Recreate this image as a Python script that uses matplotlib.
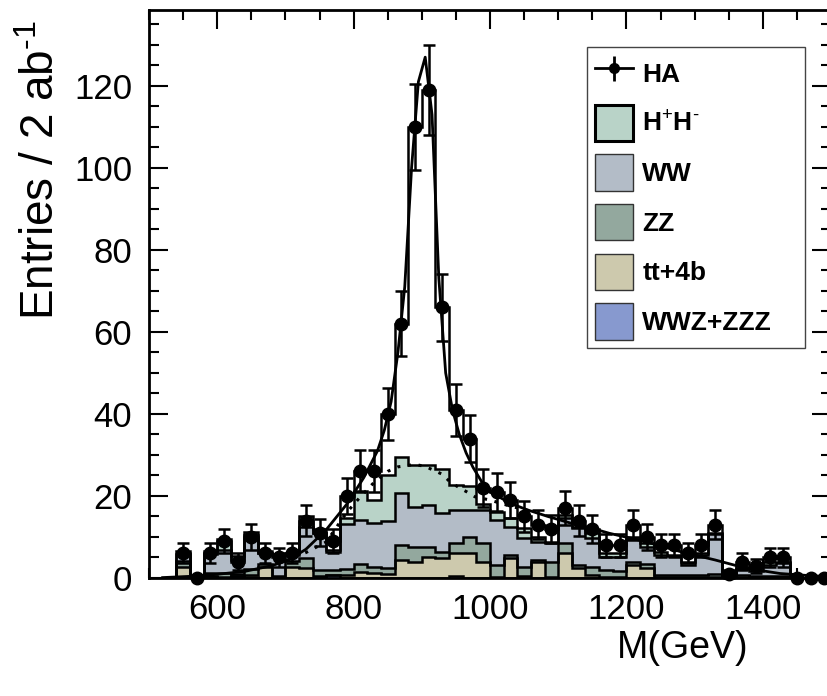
import matplotlib
matplotlib.use("Agg")
import matplotlib.pyplot as plt
from matplotlib.ticker import MultipleLocator
from matplotlib.patches import Patch
from matplotlib.lines import Line2D
import numpy as np

plt.rcParams['font.family'] = ['Liberation Sans', 'DejaVu Sans']
plt.rcParams['mathtext.fontset'] = 'custom'
plt.rcParams['mathtext.rm'] = 'Liberation Sans'
plt.rcParams['mathtext.it'] = 'Liberation Sans'

# bins: 20 GeV wide, 540 .. 1500 GeV
bin_lo = 540
bin_hi = 1500
bin_w = 20

# pseudo-data (HA signal + background), entries per bin
ha = [6, 0, 6, 9, 4, 10, 6, 5, 6, 14,
      11, 9, 20, 26, 26, 40, 62, 110, 119, 66,
      41, 34, 22, 21, 19, 15, 13, 12, 17, 14,
      12, 8, 8, 13, 10, 8, 8, 6, 8, 13,
      1, 4, 3, 5, 5, 0, 0, 0]

# backgrounds (stacked bottom -> top)
wwz_zzz = [0, 0, 0, 0, 0.4, 0.2, 0, 0, 0, 0,
           0, 0.8, 0, 0, 0, 0, 0, 0, 0, 0,
           0.6, 0, 0, 0, 0, 0, 0, 0, 0, 0,
           0, 0, 0, 0, 0, 0, 0, 0, 0, 0,
           0, 0, 0, 0, 0, 0, 0, 0]
tt4b = [2.8, 0, 0.5, 0.3, 0.1, 0.6, 2.8, 0.2, 2.8, 2.4,
        0.5, 0, 0.7, 1.5, 1.3, 1.0, 4.3, 4.0, 5.2, 4.8,
        5.6, 6.0, 3.8, 0.3, 4.8, 0.5, 4.0, 0.2, 6.0, 2.4,
        0.8, 0.3, 0.3, 3.2, 2.4, 0.3, 0.3, 0.2, 0.2, 0.3,
        0, 0.2, 0.2, 0.2, 0.2, 0, 0, 0]
zz = [1.4, 0, 0.8, 1.0, 0.5, 1.5, 0.5, 0.3, 1.4, 2.4,
      1.5, 1.2, 1.5, 1.8, 1.5, 1.5, 3.8, 3.6, 2.4, 1.6,
      2.3, 4.1, 4.7, 2.9, 0.8, 2.3, 0.5, 3.8, 2.5, 0.8,
      2.0, 1.7, 1.4, 0.8, 1.0, 0.5, 0.5, 0.5, 0.5, 0.6,
      0.2, 0.5, 0.4, 0.4, 0.4, 0, 0, 0]
ww = [1.6, 0, 4.5, 5.5, 3.4, 8.2, 2.7, 5.0, 1.5, 7.7,
      9.0, 4.4, 11.0, 10.9, 10.6, 11.5, 12.7, 9.8, 10.2, 9.4,
      8.1, 6.5, 8.0, 10.9, 6.9, 6.9, 4.4, 4.5, 6.1, 8.9,
      6.9, 3.2, 3.5, 5.3, 4.2, 4.8, 4.5, 2.5, 5.0, 9.8,
      0, 1.5, 1.2, 2.6, 3.0, 0, 0, 0]
hphm = [0.9, 0, 0.7, 2.8, 1.0, 0.8, 0.5, 0.3, 0.5, 2.5,
        1.0, 0.5, 1.5, 7.0, 5.7, 11.0, 8.8, 10.2, 9.8, 10.9,
        6.1, 5.8, 1.5, 2.1, 2.1, 2.4, 1.2, 0.4, 0.8, 0.4,
        1.2, 0.8, 0.8, 0.8, 0.9, 0.8, 0.3, 0.8, 0.3, 0.2,
        0, 0.2, 0.8, 0.8, 0.4, 0, 0, 0]

# fitted curves
fit_m = [520, 560, 600, 640, 680, 705, 730, 760, 790, 815, 835, 845, 855, 865,
         875, 885, 895, 905, 915, 925, 935, 945, 955, 965, 975, 995, 1030, 1055,
         1085, 1120, 1150, 1175, 1225, 1280, 1330, 1375, 1425, 1475, 1500]
fit_v = [0.1, 0.4, 0.9, 1.6, 3.0, 4.4, 7.0, 11.8, 18, 24.5, 31, 36, 43, 55,
         71, 100, 121, 127, 113, 73, 50, 41, 35, 30.5, 27, 21.5, 18.2, 16.6,
         15, 13.3, 12.1, 10.9, 9.0, 6.4, 4.4, 2.4, 1.1, 0.5, 0.35]
bkg_m = [700, 730, 760, 790, 810, 830, 850, 865, 890, 905, 930, 941, 956,
         966, 978, 1000, 1030, 1060]
bkg_v = [4.2, 6.2, 8.8, 16.0, 19.8, 23.3, 26.0, 27.1, 27.7, 27.2, 25.3,
         23.5, 21.9, 21.0, 19.8, 19.0, 17.5, 16.3]

labels = ['HA', 'H$^{+}$H$^{\\text{-}}$', 'WW', 'ZZ', 'tt+4b', 'WWZ+ZZZ']
col_hh = '#b9d3c8'
col_ww = '#b3bcc7'
col_zz = '#93a89e'
col_tt = '#cdc9ad'
col_wwz = '#8799cf'

edges = np.arange(bin_lo, bin_hi + 1, bin_w)
centers = edges[:-1] + bin_w / 2

fig = plt.figure(figsize=(8.27, 6.96), dpi=100)
ax = fig.add_axes([149 / 827, 118 / 696, 682 / 827, 568 / 696])

lw = 1.8
layers = [(wwz_zzz, col_wwz), (tt4b, col_tt), (zz, col_zz), (ww, col_ww), (hphm, col_hh)]
bottom = np.zeros(len(centers))
for vals, c in layers:
    vals = np.array(vals)
    ax.stairs(bottom + vals, edges, baseline=bottom, fill=True, facecolor=c,
              edgecolor='none', zorder=2)
    bottom = bottom + vals
# outlines of each cumulative layer
bottom = np.zeros(len(centers))
for vals, c in layers:
    bottom = bottom + np.array(vals)
    ax.stairs(bottom, edges, baseline=0, fill=False, color='k', lw=lw, zorder=3)

ha_arr = np.array(ha, dtype=float)
ax.stairs(ha_arr, edges, baseline=None, color='k', lw=lw, zorder=4)
ax.errorbar(centers, ha_arr, yerr=np.sqrt(ha_arr), fmt='o', color='k', ms=9,
            elinewidth=lw, capsize=4, capthick=lw, zorder=5, clip_on=False)

ax.plot(bkg_m, bkg_v, color='k', lw=2.2, linestyle=(0, (1, 2.5)), zorder=6)
ax.plot(fit_m, fit_v, color='k', lw=2.0, zorder=6)

ax.set_xlim(500, 1500)
ax.set_ylim(0, 138.5)
ax.xaxis.set_major_locator(MultipleLocator(200))
ax.xaxis.set_minor_locator(MultipleLocator(50))
ax.yaxis.set_major_locator(MultipleLocator(20))
ax.yaxis.set_minor_locator(MultipleLocator(5))
ax.tick_params(which='both', direction='in', top=True, right=True, width=1.5,
               labelsize=25)
ax.tick_params(which='major', length=14)
ax.tick_params(which='minor', length=7)
ax.tick_params(axis='x', pad=11)
ax.tick_params(axis='y', pad=12)
for s in ax.spines.values():
    s.set_linewidth(2)

fig.text(42 / 827, 1 - 20 / 696, 'Entries / 2 ab$^{\\text{-1}}$', rotation=90,
         ha='center', va='top', fontsize=33)
fig.text(683 / 827, 1 - 648 / 696, 'M(GeV)', ha='center', va='center', fontsize=27)

h_ha = (Line2D([], [], marker='|', markersize=18, mew=2, color='k', linestyle='none'),
        Line2D([], [], marker='o', markersize=7, color='k', lw=2))
handles = [h_ha,
           Patch(facecolor=col_hh, edgecolor='k', lw=2.2),
           Patch(facecolor=col_ww, edgecolor='#333333', lw=1.0),
           Patch(facecolor=col_zz, edgecolor='#333333', lw=1.0),
           Patch(facecolor=col_tt, edgecolor='#333333', lw=1.0),
           Patch(facecolor=col_wwz, edgecolor='#333333', lw=1.0)]
leg = ax.legend(handles, labels, loc='upper left', bbox_to_anchor=(0.642, 0.405, 0.32, 0.53),
                mode='expand', borderaxespad=0, fancybox=False, framealpha=1,
                edgecolor='#444444', handlelength=1.45, handleheight=1.75,
                handletextpad=0.35, labelspacing=0.5, borderpad=0.3,
                prop={'weight': 'bold', 'size': 19})
leg.get_frame().set_linewidth(1.0)
leg.set_zorder(10)

fig.savefig('out.png', dpi=100)
